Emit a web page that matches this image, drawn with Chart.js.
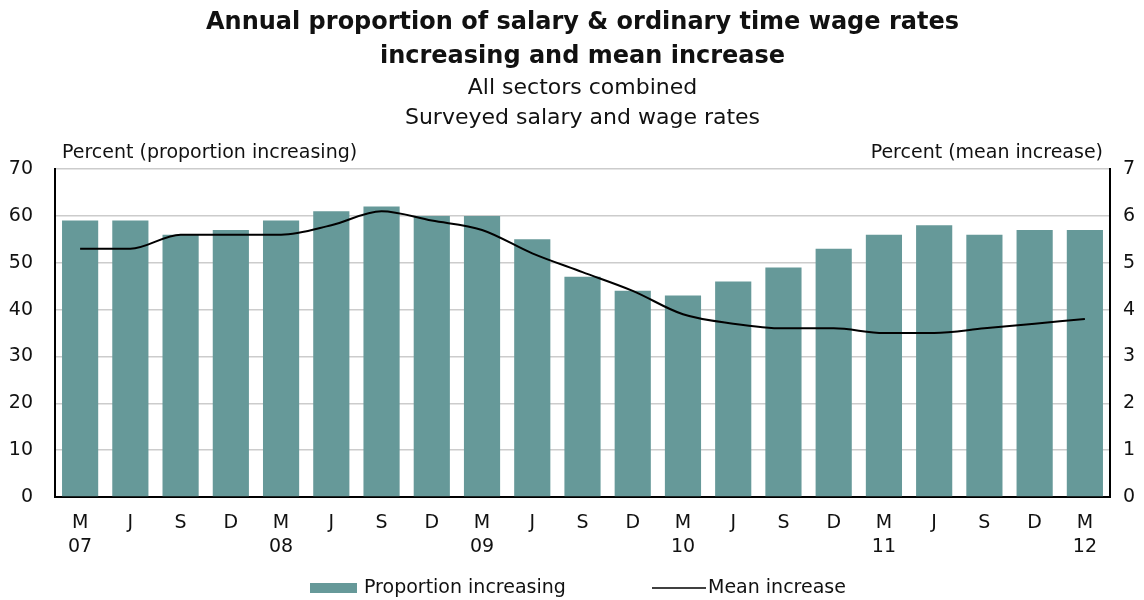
<!DOCTYPE html>
<html>
<head>
<meta charset="utf-8">
<script src="https://cdn.jsdelivr.net/npm/chart.js@4"></script>
<style>
  html, body { margin: 0; padding: 0; background: #fff; }
  #wrap { width: 1144px; height: 600px; }
</style>
</head>
<body>
<div id="wrap"><canvas id="chart" width="1144" height="600"></canvas></div>
<script>
// --- data ---
const quarters = ['M','J','S','D','M','J','S','D','M','J','S','D','M','J','S','D','M','J','S','D','M'];
const years    = ['07','','','','08','','','','09','','','','10','','','','11','','','','12'];
const proportionIncreasing = [59, 59, 56, 57, 59, 61, 62, 60, 60, 55, 47, 44, 43, 46, 49, 53, 56, 58, 56, 57, 57];
const meanIncrease = [5.3, 5.3, 5.6, 5.6, 5.6, 5.8, 6.1, 5.9, 5.7, 5.2, 4.8, 4.4, 3.9, 3.7, 3.6, 3.6, 3.5, 3.5, 3.6, 3.7, 3.8];
const leftTicks = [0, 10, 20, 30, 40, 50, 60, 70];
const rightTicks = [0, 1, 2, 3, 4, 5, 6, 7];

const BAR_COLOR = '#669999';
const FONT = 'DejaVu Sans';
const TEXT = '#111';

const labels = quarters.map((q, i) => [q, years[i]]);

// axis captions above the plot + legend at the bottom
const extrasPlugin = {
  id: 'extras',
  afterDraw(chart) {
    const ctx = chart.ctx;
    const area = chart.chartArea;
    ctx.save();
    ctx.fillStyle = TEXT;
    ctx.font = '19px "' + FONT + '"';
    ctx.textBaseline = 'middle';
    ctx.textAlign = 'left';
    ctx.fillText('Percent (proportion increasing)', area.left + 7, 153);
    ctx.textAlign = 'right';
    ctx.fillText('Percent (mean increase)', area.right - 7, 153);

    // legend
    const ly = 588;
    const ds = chart.data.datasets;
    ctx.fillStyle = BAR_COLOR;
    ctx.fillRect(310, ly - 5, 47, 10);
    ctx.fillStyle = TEXT;
    ctx.textAlign = 'left';
    ctx.fillText(ds[1].label, 364, ly);
    ctx.strokeStyle = '#000';
    ctx.lineWidth = 1.5;
    ctx.beginPath();
    ctx.moveTo(652, ly);
    ctx.lineTo(706, ly);
    ctx.stroke();
    ctx.fillText(ds[0].label, 708, ly);
    ctx.restore();
  }
};

new Chart(document.getElementById('chart').getContext('2d'), {
  data: {
    labels: labels,
    datasets: [
      {
        type: 'line',
        label: 'Mean increase',
        data: meanIncrease,
        yAxisID: 'y1',
        borderColor: '#000',
        borderWidth: 2,
        pointRadius: 0,
        cubicInterpolationMode: 'monotone',
        order: 1
      },
      {
        type: 'bar',
        label: 'Proportion increasing',
        data: proportionIncreasing,
        yAxisID: 'y',
        backgroundColor: BAR_COLOR,
        borderWidth: 0,
        barPercentage: 0.72,
        categoryPercentage: 1,
        order: 2
      }
    ]
  },
  options: {
    responsive: false,
    animation: false,
    layout: { padding: 0 },
    plugins: {
      legend: { display: false },
      tooltip: { enabled: false },
      title: {
        display: true,
        fullSize: false,
        text: ['Annual proportion of salary & ordinary time wage rates', 'increasing and mean increase'],
        color: TEXT,
        font: { family: FONT, size: 24, weight: 'bold', lineHeight: 1.4 },
        padding: { top: 6, bottom: 0 }
      },
      subtitle: {
        display: true,
        fullSize: false,
        text: ['All sectors combined', 'Surveyed salary and wage rates'],
        color: TEXT,
        font: { family: FONT, size: 22, lineHeight: 1.36 },
        padding: { top: 0, bottom: 36 }
      }
    },
    scales: {
      x: {
        grid: { display: false, drawTicks: false },
        border: { color: '#000', width: 2 },
        ticks: {
          color: TEXT,
          font: { family: FONT, size: 19, lineHeight: 1.25 },
          padding: 14,
          maxRotation: 0,
          autoSkip: false
        },
        afterFit(scale) { scale.height = 103; }
      },
      y: {
        position: 'left',
        min: 0,
        max: 70,
        afterBuildTicks(scale) { scale.ticks = leftTicks.map(v => ({ value: v })); },
        grid: { color: '#cccccc', lineWidth: 1.5, drawTicks: false },
        border: { color: '#000', width: 2 },
        ticks: {
          color: TEXT,
          font: { family: FONT, size: 19 },
          padding: 22
        },
        afterFit(scale) { scale.width = 55; }
      },
      y1: {
        position: 'right',
        min: 0,
        max: 7,
        afterBuildTicks(scale) { scale.ticks = rightTicks.map(v => ({ value: v })); },
        grid: { drawOnChartArea: false, drawTicks: false },
        border: { color: '#000', width: 2 },
        ticks: {
          color: TEXT,
          font: { family: FONT, size: 19 },
          padding: 13
        },
        afterFit(scale) { scale.width = 34; }
      }
    }
  },
  plugins: [extrasPlugin]
});
</script>
</body>
</html>
